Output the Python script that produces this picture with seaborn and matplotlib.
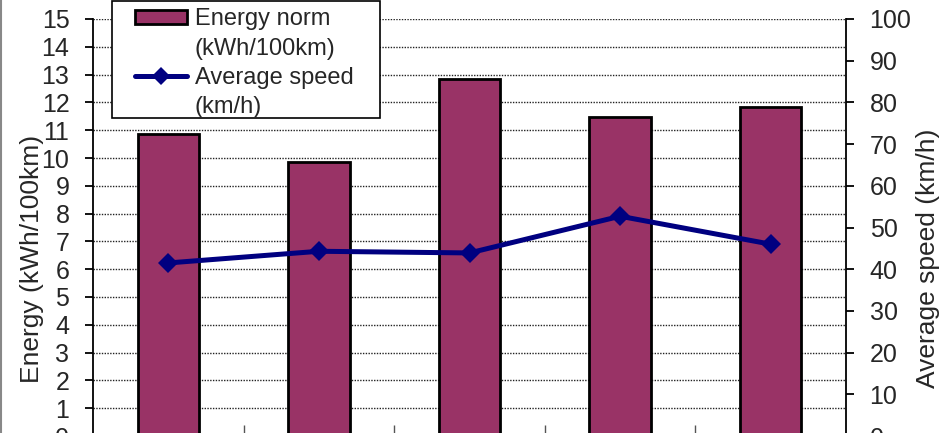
import matplotlib
matplotlib.use("Agg")
import matplotlib.pyplot as plt
from matplotlib.patches import Patch, Rectangle
from matplotlib.lines import Line2D
import seaborn as sns
import pandas as pd

# Data
trips = ["Trip 1", "Trip 2", "Trip 3", "Trip 4", "Trip 5"]
energy_norm = [10.88, 9.85, 12.84, 11.48, 11.82]      # kWh/100km
avg_speed = [41.5, 44.3, 43.9, 52.7, 46.0]            # km/h
energy_ticks = list(range(0, 16))
speed_ticks = list(range(0, 101, 10))

BAR_COLOR = "#993366"
LINE_COLOR = "#000080"
TICK_FS = 18
LEGEND_FS = 17
LABEL_FS = 19

sns.set_style("white")
plt.rcParams["font.family"] = ["Liberation Sans", "DejaVu Sans"]

df = pd.DataFrame({"trip": trips, "energy": energy_norm, "speed": avg_speed})

W, H = 943, 433
fig = plt.figure(figsize=(W / 100, H / 100), dpi=100)
ax = fig.add_axes([93 / W, -3 / H, 753 / W, 417 / H])

sns.barplot(data=df, x="trip", y="energy", color=BAR_COLOR, saturation=1,
            edgecolor="black", linewidth=2, width=0.407, ax=ax, zorder=2)

ax2 = ax.twinx()
sns.pointplot(data=df, x="trip", y="speed", color=LINE_COLOR, markers="D",
              linestyles="-", errorbar=None, ax=ax2,
              markersize=10.5, linewidth=3.6, markeredgewidth=0)

# Axis limits and ticks
ax.set_xlim(-0.5, len(trips) - 0.5)
ax.set_ylim(0, 15)
ax2.set_ylim(0, 100)
ax.set_yticks(energy_ticks)
ax2.set_yticks(speed_ticks)
ax.set_xticks([])
ax.set_xticks([i + 0.5 for i in range(len(trips) - 1)], minor=True)
ax.tick_params(axis="x", which="minor", direction="in", length=8, width=1,
               color="#555555", bottom=True)
ax.set_xlabel("")
ax2.set_xlabel("")

ax.tick_params(axis="y", which="major", direction="out", length=6, width=1.3,
               color="black", labelsize=TICK_FS, pad=11, left=True)
ax2.tick_params(axis="y", which="major", direction="out", length=6, width=1.3,
                color="black", labelsize=TICK_FS, pad=11, right=True)

# Gridlines behind the bars
ax.set_axisbelow(True)
ax.yaxis.grid(True, color="#222222", linestyle=(0, (1, 1)), linewidth=1)
ax.xaxis.grid(False)
ax2.grid(False)

for a in (ax, ax2):
    for s in a.spines.values():
        s.set_visible(False)
ax.spines["left"].set_visible(True)
ax.spines["left"].set_color("black")
ax.spines["left"].set_linewidth(1.3)
ax2.spines["right"].set_visible(True)
ax2.spines["right"].set_color("black")
ax2.spines["right"].set_linewidth(1.3)

ax.set_ylabel("Energy (kWh/100km)", fontsize=LABEL_FS)
ax.yaxis.set_label_coords(-0.065, 0.4245)
ax2.set_ylabel("Average speed (km/h)", fontsize=LABEL_FS)
ax2.yaxis.set_label_coords(1.093, 0.427)

# Legend box
fig.add_artist(Rectangle((112 / W, 1 - 118 / H), (380 - 112) / W, 117 / H,
                         transform=fig.transFigure, facecolor="white",
                         edgecolor="black", linewidth=1.2, zorder=4))
blank = Patch(facecolor="none", edgecolor="none")
handles = [
    Patch(facecolor=BAR_COLOR, edgecolor="black", linewidth=2),
    blank,
    Line2D([], [], color=LINE_COLOR, linewidth=3.6, marker="D", markersize=9,
           markeredgewidth=0),
    blank,
]
labels = ["Energy norm", "(kWh/100km)", "Average speed", "(km/h)"]
fig.legend(handles, labels, loc="upper left",
           bbox_to_anchor=(135 / W, 1 - 8.5 / H), bbox_transform=fig.transFigure,
           frameon=False, borderpad=0, borderaxespad=0, handlelength=2.2,
           handletextpad=0.34, labelspacing=0.31, fontsize=LEGEND_FS,
           handleheight=0.55)

# Chart-area border on the left edge
fig.add_artist(Line2D([1 / W, 1 / W], [0, 1], transform=fig.transFigure,
                      color="#888888", linewidth=1.5))

fig.savefig("out.png", dpi=100)
